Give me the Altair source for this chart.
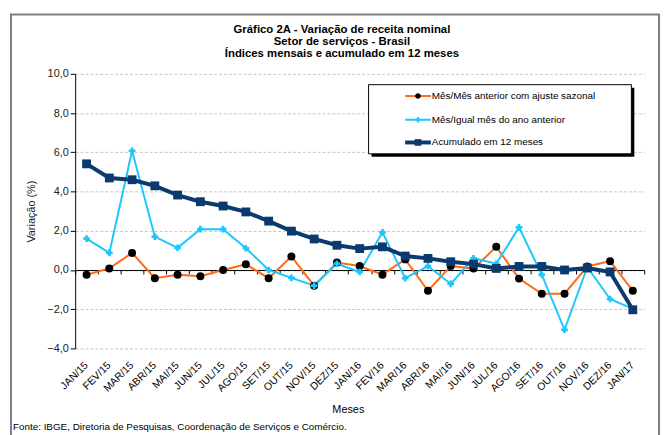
import altair as alt
import pandas as pd

months = ["JAN/15","FEV/15","MAR/15","ABR/15","MAI/15","JUN/15","JUL/15","AGO/15","SET/15","OUT/15","NOV/15","DEZ/15",
          "JAN/16","FEV/16","MAR/16","ABR/16","MAI/16","JUN/16","JUL/16","AGO/16","SET/16","OUT/16","NOV/16","DEZ/16","JAN/17"]
mes_mes = [-0.24,0.08,0.87,-0.42,-0.24,-0.32,0.0,0.29,-0.42,0.69,-0.8,0.38,
           0.2,-0.24,0.54,-1.06,0.2,0.07,1.18,-0.44,-1.21,-1.21,0.18,0.45,-1.06]
mes_igual = [1.6,0.87,6.08,1.7,1.13,2.08,2.08,1.11,0.0,-0.4,-0.8,0.32,
             -0.1,1.92,-0.42,0.2,-0.71,0.6,0.32,2.17,-0.24,-3.05,0.15,-1.48,-1.98]
acumulado = [5.41,4.69,4.6,4.29,3.82,3.48,3.26,2.96,2.49,1.98,1.58,1.26,
             1.09,1.18,0.71,0.59,0.42,0.3,0.08,0.18,0.18,0.0,0.1,-0.1,-2.03]

series_names = ["Mês/Mês anterior com ajuste sazonal", "Mês/Igual mês do ano anterior", "Acumulado em 12 meses"]
title_lines = ["Gráfico 2A - Variação de receita nominal", "Setor de serviços  - Brasil", "Índices mensais e acumulado em 12 meses"]
footer = "Fonte: IBGE,  Diretoria de Pesquisas, Coordenação de Serviços e Comércio."
y_ticks = [-4, -2, 0, 2, 4, 6, 8, 10]

FONT = "Liberation Sans"
W, H = 576, 278
ZERO_Y = H * 10 / 14

df = pd.DataFrame({"mes": months, "mm": mes_mes, "ia": mes_igual, "ac": acumulado})
one = pd.DataFrame({"a": [0]})

xscale = alt.Scale(type="band", domain=months, paddingInner=0, paddingOuter=0)
yscale = alt.Scale(domain=[-4, 10], nice=False, zero=False)

label_axis = alt.Axis(orient="bottom", domain=False, ticks=False, grid=False,
                      labelAngle=-45, labelAlign="right", labelBaseline="middle",
                      labelPadding=15, labelFont=FONT, labelFontSize=10.5, labelColor="#000",
                      title="Meses", titleFont=FONT, titleFontSize=11, titleFontWeight="normal",
                      titleColor="#000", titleX=276, titleY=62, titleBaseline="middle")
zero_axis = alt.Axis(orient="bottom", offset=-(H - ZERO_Y), domain=True, domainColor="#000",
                     domainWidth=1, ticks=True, tickBand="extent", tickSize=4, tickColor="#000",
                     labels=False, title=None, grid=False)
y_axis = alt.Axis(values=y_ticks, labelExpr="replace(format(datum.value, '.1f'), '.', ',')",
                  grid=True, gridDash=[3, 2], gridColor="#c4c4c4", domainColor="#000",
                  tickColor="#000", tickSize=5, labelPadding=2, labelFont=FONT, labelFontSize=11,
                  labelColor="#222", title="Variação (%)", titleFont=FONT, titleFontSize=11,
                  titleFontWeight="normal", titleColor="#222", titleX=-44, titleY=139,
                  titleAngle=270, titleAlign="center", titleBaseline="middle")

# frame
frame = alt.Chart(one).mark_rect(fill=None, stroke="#7f7f7f", strokeWidth=2).encode(
    x=alt.value(-65), x2=alt.value(591), y=alt.value(-60), y2=alt.value(375))

orange = "#FF6A13"
cyan = "#1CC6FF"
navy = "#0B3A6E"

l_mm = alt.Chart(df).mark_line(color=orange, strokeWidth=2).encode(
    x=alt.X("mes:N", scale=xscale, axis=label_axis, sort=months),
    y=alt.Y("mm:Q", scale=yscale, axis=y_axis))
p_mm = alt.Chart(df).mark_point(filled=True, color="#000", size=65, opacity=1).encode(
    x=alt.X("mes:N", scale=xscale, axis=zero_axis, sort=months),
    y=alt.Y("mm:Q", scale=yscale, axis=None))
l_ia = alt.Chart(df).mark_line(color=cyan, strokeWidth=2).encode(
    x=alt.X("mes:N", scale=xscale, axis=None, sort=months),
    y=alt.Y("ia:Q", scale=yscale, axis=None))
p_ia = alt.Chart(df).mark_point(filled=True, color=cyan, shape="cross", size=45, opacity=1).encode(
    x=alt.X("mes:N", scale=xscale, axis=None, sort=months),
    y=alt.Y("ia:Q", scale=yscale, axis=None))
l_ac = alt.Chart(df).mark_line(color=navy, strokeWidth=4).encode(
    x=alt.X("mes:N", scale=xscale, axis=None, sort=months),
    y=alt.Y("ac:Q", scale=yscale, axis=None))
p_ac = alt.Chart(df).mark_point(filled=True, color=navy, shape="square", size=80, opacity=1).encode(
    x=alt.X("mes:N", scale=xscale, axis=None, sort=months),
    y=alt.Y("ac:Q", scale=yscale, axis=None))

# title
titles = []
for i, t in enumerate(title_lines):
    titles.append(alt.Chart(one).mark_text(text=t, font=FONT, fontSize=11.5, fontWeight="bold",
                                           color="#000", align="center", baseline="middle").encode(
        x=alt.value(270), y=alt.value(-44.5 + 12 * i)))

# legend
lx0, lx1, ly0, ly1 = 297, 563, 11, 81
leg = [
    alt.Chart(one).mark_rect(fill="#000").encode(
        x=alt.value(lx0 + 3), x2=alt.value(lx1 + 3), y=alt.value(ly0 + 3), y2=alt.value(ly1 + 3)),
    alt.Chart(one).mark_rect(fill="#fff", stroke="#000", strokeWidth=1).encode(
        x=alt.value(lx0), x2=alt.value(lx1), y=alt.value(ly0), y2=alt.value(ly1)),
]
row_y = [22.5, 46.5, 69.5]
styles = [(orange, 2, "#000", "circle", 30), (cyan, 2, cyan, "cross", 30), (navy, 4, navy, "square", 45)]
for name, ry, (lc, lw, mc, shp, sz) in zip(series_names, row_y, styles):
    leg.append(alt.Chart(one).mark_rule(color=lc, strokeWidth=lw).encode(
        x=alt.value(334), x2=alt.value(360), y=alt.value(ry)))
    leg.append(alt.Chart(one).mark_point(filled=True, color=mc, shape=shp, size=sz, opacity=1).encode(
        x=alt.value(347), y=alt.value(ry)))
    leg.append(alt.Chart(one).mark_text(text=name, font=FONT, fontSize=10, color="#000",
                                        align="left", baseline="middle").encode(
        x=alt.value(361), y=alt.value(ry)))

foot = alt.Chart(one).mark_text(text=footer, font=FONT, fontSize=10, color="#000",
                                align="left", baseline="middle").encode(
    x=alt.value(-63), y=alt.value(358))

chart = alt.layer(frame, *titles, l_mm, l_ia, l_ac, p_mm, p_ia, p_ac, *leg, foot).resolve_axis(
    x="independent", y="independent"
).properties(
    width=W, height=H,
    autosize=alt.AutoSizeParams(type="none"),
    padding={"left": 68, "top": 64, "right": 17, "bottom": 85},
    background="white",
).configure_view(stroke=None)

chart.save("out.html", embed_options={"renderer": "svg", "actions": False})
